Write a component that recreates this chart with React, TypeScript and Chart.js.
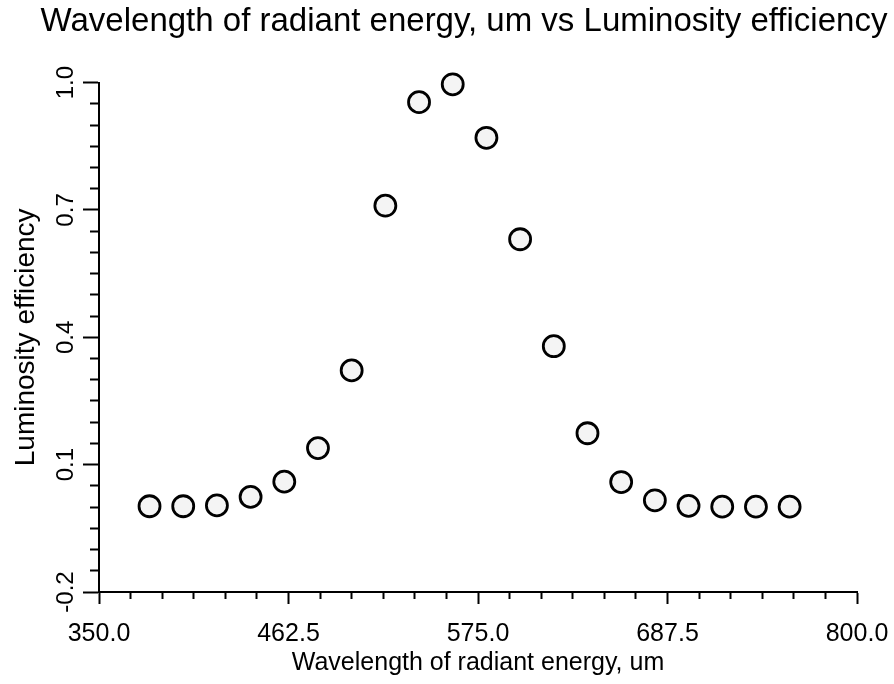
import React, { useEffect, useRef } from 'react';
import { Chart, registerables } from 'chart.js';

Chart.register(...registerables);

const wavelengths = [380, 400, 420, 440, 460, 480, 500, 520, 540, 560, 580, 600, 620, 640, 660, 680, 700, 720, 740, 760];
const efficiency = [0.002, 0.002, 0.004, 0.024, 0.06, 0.139, 0.322, 0.71, 0.954, 0.996, 0.87, 0.631, 0.379, 0.174, 0.059, 0.016, 0.003, 0.001, 0.001, 0.001];
const xTickLabels = ['350.0', '462.5', '575.0', '687.5', '800.0'];
const yTickLabels = ['-0.2', '0.1', '0.4', '0.7', '1.0'];
const TITLE = 'Wavelength of radiant energy, um vs Luminosity efficiency';
const X_TITLE = 'Wavelength of radiant energy, um';
const Y_TITLE = 'Luminosity efficiency';
const X_MIN = 350;
const X_MAX = 800;
const X_STEP = 18.75;
const Y_MIN = -0.2;
const Y_MAX = 1.0;
const Y_STEP = 0.05;
const MINOR_PER_MAJOR = 6;

const FONT = '"Liberation Sans", Arial, Helvetica, sans-serif';

export default function App() {
  const canvasRef = useRef<HTMLCanvasElement | null>(null);

  useEffect(() => {
    const canvas = canvasRef.current;
    if (!canvas) return;
    Chart.defaults.font.family = FONT;
    Chart.defaults.color = '#000';

    const chart = new Chart(canvas, {
      type: 'scatter',
      data: {
        datasets: [
          {
            data: wavelengths.map((x, i) => ({ x, y: efficiency[i] })),
            pointRadius: 10.5,
            pointHoverRadius: 10.5,
            pointBorderWidth: 2.8,
            borderColor: '#000',
            backgroundColor: '#f4f4f4',
            showLine: false,
            clip: false,
          } as any,
        ],
      },
      options: {
        responsive: false,
        animation: false,
        devicePixelRatio: 1,
        events: [],
        layout: { padding: { left: 34, right: 0, top: 0, bottom: 0 } },
        plugins: {
          legend: { display: false },
          tooltip: { enabled: false },
          title: {
            display: true,
            text: TITLE,
            color: '#000',
            font: { family: FONT, size: 33, weight: 'normal' },
            padding: { top: 2, bottom: 41 },
          },
        },
        scales: {
          x: {
            type: 'linear',
            position: 'bottom',
            min: X_MIN,
            max: X_MAX,
            afterFit: (scale: any) => {
              scale.height = 92;
              scale.paddingRight = 37;
            },
            border: { display: true, color: '#000', width: 2 },
            grid: {
              drawOnChartArea: false,
              drawTicks: true,
              tickLength: 12,
              tickWidth: 2,
              tickColor: '#000',
              tickBorderDash: (ctx: any) => (ctx.index % MINOR_PER_MAJOR === 0 ? [] : [6, 100]),
            },
            ticks: {
              stepSize: X_STEP,
              autoSkip: false,
              maxRotation: 0,
              minRotation: 0,
              padding: 15,
              color: '#000',
              font: { family: FONT, size: 25 },
              callback: (_v: any, index: number) =>
                index % MINOR_PER_MAJOR === 0 ? xTickLabels[index / MINOR_PER_MAJOR] : '',
            },
            title: {
              display: true,
              text: X_TITLE,
              color: '#000',
              font: { family: FONT, size: 25 },
              padding: { top: 0, bottom: 6 },
            },
          },
          y: {
            type: 'linear',
            position: 'left',
            min: Y_MIN,
            max: Y_MAX,
            afterFit: (scale: any) => {
              scale.width = 65;
            },
            border: { display: true, color: '#000', width: 2 },
            grid: {
              drawOnChartArea: false,
              drawTicks: true,
              tickLength: 16,
              tickWidth: 2,
              tickColor: '#000',
              tickBorderDash: (ctx: any) => (ctx.index % MINOR_PER_MAJOR === 0 ? [] : [0, 7, 9, 100]),
            },
            ticks: {
              stepSize: Y_STEP,
              autoSkip: false,
              minRotation: 90,
              maxRotation: 90,
              crossAlign: 'center',
              padding: -4,
              color: '#000',
              font: { family: FONT, size: 24 },
              callback: (_v: any, index: number) =>
                index % MINOR_PER_MAJOR === 0 ? yTickLabels[index / MINOR_PER_MAJOR] : '',
            },
            title: {
              display: true,
              text: Y_TITLE,
              color: '#000',
              font: { family: FONT, size: 28 },
              padding: { top: -25, bottom: 0 },
            },
          },
        },
      } as any,
    });

    return () => {
      chart.destroy();
    };
  }, []);

  return (
    <div style={{ position: 'fixed', left: 0, top: 0, width: 894, height: 684, background: '#fff' }}>
      <canvas ref={canvasRef} width={894} height={684} style={{ display: 'block' }} />
    </div>
  );
}
